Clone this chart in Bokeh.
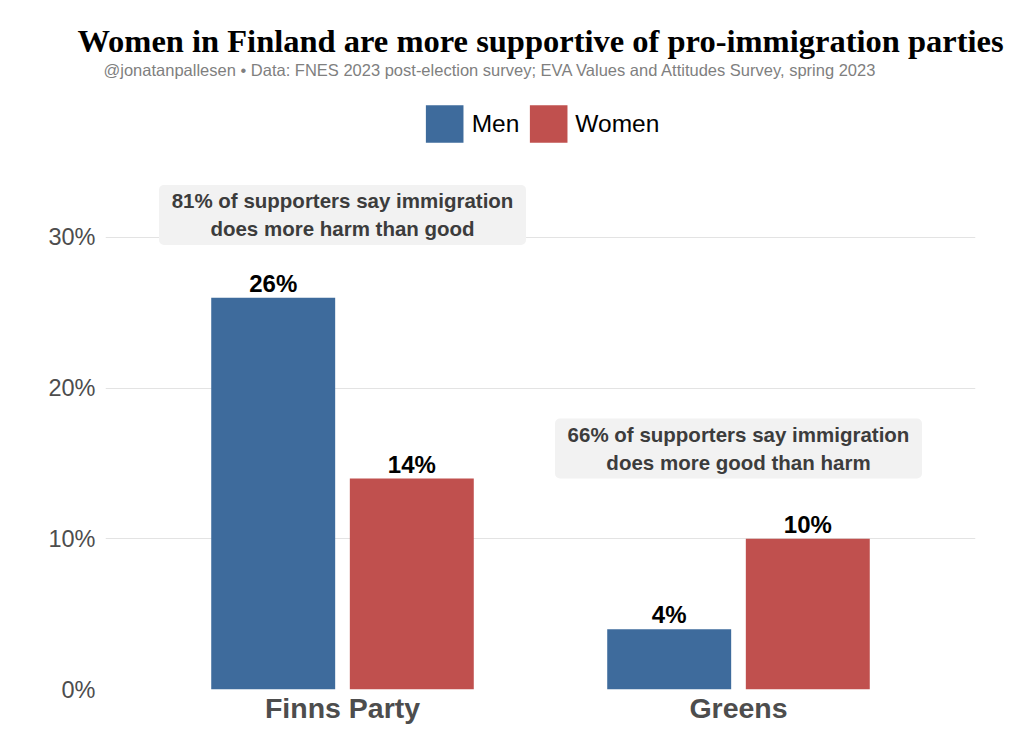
from bokeh.plotting import figure
from bokeh.models import (ColumnDataSource, FactorRange, Range1d, FixedTicker,
                          Title, Legend, LegendItem, CustomJSTickFormatter)
from bokeh.transform import dodge
from bokeh.core.properties import value
from bokeh.embed import file_html
from bokeh.resources import INLINE

# ---- data ----
parties = ["Finns Party", "Greens"]
men = [26, 4]
women = [14, 10]
y_ticks = [0, 10, 20, 30]
note_texts = ["81% of supporters say immigration\ndoes more harm than good",
              "66% of supporters say immigration\ndoes more good than harm"]
note_y = [31.5, 16.0]

title_text = "Women in Finland are more supportive of pro-immigration parties"
subtitle_text = ("@jonatanpallesen \u2022 Data: FNES 2023 post-election survey; "
                 "EVA Values and Attitudes Survey, spring 2023")

BLUE = "#3e6b9c"
RED = "#c0504e"

src = ColumnDataSource(dict(
    party=parties,
    men=men,
    women=women,
    men_lbl=[f"{v}%" for v in men],
    women_lbl=[f"{v}%" for v in women],
))
notes = ColumnDataSource(dict(party=parties, y=note_y, text=note_texts))

FRAME_TOP = 78
p = figure(
    width=1016, height=732,
    x_range=FactorRange(*parties, range_padding=0.0985),
    y_range=Range1d(0, (689 - FRAME_TOP) / 15.067),
    output_backend="svg", toolbar_location=None,
    min_border_left=105, min_border_right=41, min_border_top=0, min_border_bottom=43,
)
p.outline_line_color = None
p.background_fill_color = "white"
p.border_fill_color = "white"

# titles (subtitle first: later-added panels go further out)
p.add_layout(Title(text=subtitle_text, align="left", offset=-2, standoff=0,
                   text_font="Liberation Sans", text_font_size="16.5px",
                   text_font_style="normal", text_color="#7f7f7f"), "above")
p.add_layout(Title(text=title_text, align="center", standoff=0,
                   padding=dict(top=20, right=0, bottom=0, left=0),
                   text_font="Liberation Serif", text_font_style="bold",
                   text_font_size="32.5px", text_color="black"), "above")

# bars
r_men = p.vbar(x=dodge("party", -0.175, range=p.x_range), top="men", width=0.313,
               source=src, fill_color=BLUE, line_color=None)
r_women = p.vbar(x=dodge("party", 0.175, range=p.x_range), top="women", width=0.313,
                 source=src, fill_color=RED, line_color=None)

# value labels
for col, off in (("men", -0.175), ("women", 0.175)):
    p.text(x=dodge("party", off, range=p.x_range), y=col, text=col + "_lbl", source=src,
           text_align="center", text_baseline="bottom", y_offset=-1,
           text_font=value("Liberation Sans"), text_font_style="bold",
           text_font_size="24px", text_color="black")

# annotation boxes
p.rect(x="party", y="y", width=367, height=60, width_units="screen", height_units="screen",
       source=notes, fill_color="#f2f2f2", line_color=None, border_radius=5)
p.text(x="party", y="y", text="text", source=notes, text_align="center",
       text_baseline="middle", text_font=value("Liberation Sans"),
       text_font_style="bold", text_font_size="20.5px", text_color="#3c3c3c",
       text_line_height=1.22)

# axes
p.xaxis.axis_line_color = None
p.xaxis.major_tick_line_color = None
p.xaxis.minor_tick_line_color = None
p.xaxis.major_tick_out = 0
p.xaxis.major_tick_in = 0
p.xaxis.major_label_standoff = 2
p.xaxis.major_label_text_font = "Liberation Sans"
p.xaxis.major_label_text_font_style = "bold"
p.xaxis.major_label_text_font_size = "28.5px"
p.xaxis.major_label_text_color = "#4d4d4d"

p.yaxis.axis_line_color = None
p.yaxis.major_tick_line_color = None
p.yaxis.minor_tick_line_color = None
p.yaxis.major_tick_out = 0
p.yaxis.major_tick_in = 0
p.yaxis.ticker = FixedTicker(ticks=y_ticks)
p.yaxis.formatter = CustomJSTickFormatter(code="return tick + '%'")
p.yaxis.major_label_standoff = 10
p.yaxis.major_label_text_font = "Liberation Sans"
p.yaxis.major_label_text_font_size = "23.5px"
p.yaxis.major_label_text_color = "#4d4d4d"

p.xgrid.grid_line_color = None
p.ygrid.grid_line_color = "#e3e3e3"
p.ygrid.grid_line_width = 1.2
p.ygrid.ticker = FixedTicker(ticks=y_ticks)

# legend
legend = Legend(items=[LegendItem(label="Men", renderers=[r_men]),
                       LegendItem(label="Women", renderers=[r_women])],
                orientation="horizontal", location="top_center",
                glyph_width=47, glyph_height=47, label_standoff=4, spacing=5,
                padding=0, margin=100 - FRAME_TOP, border_line_color=None,
                background_fill_alpha=0,
                label_text_font="Liberation Sans", label_text_font_size="24.5px",
                label_text_color="black", label_height=47)
p.add_layout(legend)

open("out.html", "w").write(file_html(p, INLINE))
